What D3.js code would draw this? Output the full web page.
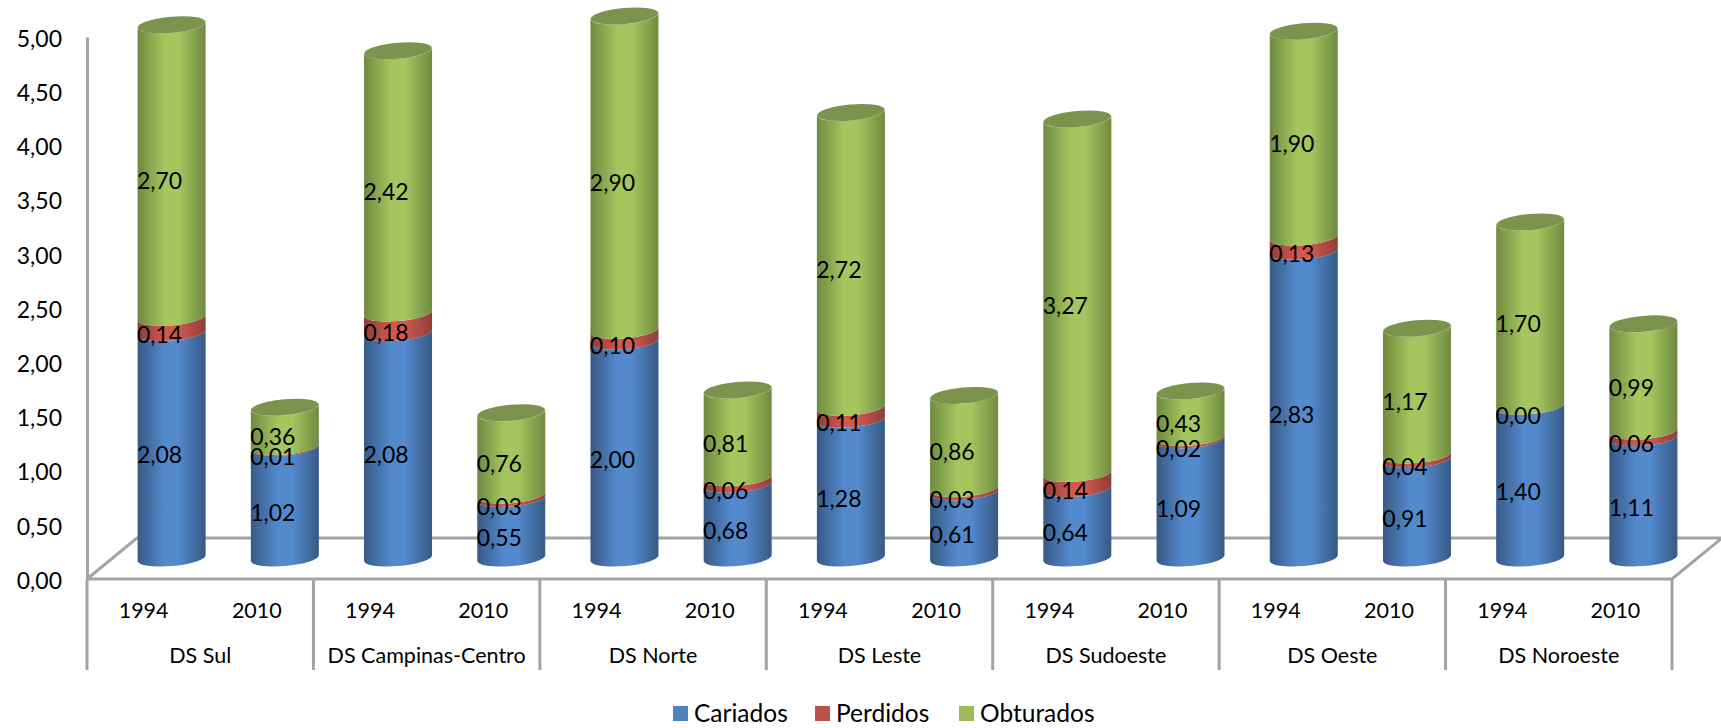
<!DOCTYPE html>
<html>
<head>
<meta charset="utf-8">
<script src="https://cdn.jsdelivr.net/npm/d3@7"></script>
<style>
  body { margin: 0; background: #fff; }
  text { font-family: Lato, "Open Sans", sans-serif; fill: #000; }
</style>
</head>
<body>
<svg id="chart" width="1721" height="728" style="display:block"></svg>
<script>
const districts = ["DS Sul", "DS Campinas-Centro", "DS Norte", "DS Leste", "DS Sudoeste", "DS Oeste", "DS Noroeste"];
const years = ["1994", "2010"];
const seriesNames = ["Cariados", "Perdidos", "Obturados"];

// two values per district: 1994, 2010
const cariados = [2.08, 1.02, 2.08, 0.55, 2.00, 0.68, 1.28, 0.61, 0.64, 1.09, 2.83, 0.91, 1.40, 1.11];
const perdidos = [0.14, 0.01, 0.18, 0.03, 0.10, 0.06, 0.11, 0.03, 0.14, 0.02, 0.13, 0.04, 0.00, 0.06];
const obturados = [2.70, 0.36, 2.42, 0.76, 2.90, 0.81, 2.72, 0.86, 3.27, 0.43, 1.90, 1.17, 1.70, 0.99];

const colors = {
  Cariados: { swatch: "#4f81bd", edge: "#375a85", mid: "#5389cd" },
  Perdidos: { swatch: "#c0504d", edge: "#8f3d3a", mid: "#d0584f" },
  Obturados: { swatch: "#9bbb59", edge: "#6f8a3f", mid: "#a5c65f" }
};

const plotLeft = 87, plotRight = 1672, plotBase = 579, plotTop = 37, bottomEnd = 670;
const depthX = 50, depthY = 41;       // floor depth
const barDX = 28, barDY = -21;        // cylinders stand in the middle of the floor
const rx = 34, ry = 8, tilt = -5, tiltY = 2.8;
const lineColor = "#a3a3a3";

const rows = cariados.map((d, i) => ({
  key: i,
  year: years[i % 2],
  Cariados: d,
  Perdidos: perdidos[i],
  Obturados: obturados[i]
}));

const svg = d3.select("#chart");
const defs = svg.append("defs");
seriesNames.forEach(name => {
  const g = defs.append("linearGradient").attr("id", "grad" + name);
  g.append("stop").attr("offset", "0%").attr("stop-color", colors[name].edge);
  g.append("stop").attr("offset", "40%").attr("stop-color", colors[name].mid);
  g.append("stop").attr("offset", "60%").attr("stop-color", colors[name].mid);
  g.append("stop").attr("offset", "100%").attr("stop-color", colors[name].edge);
});

const x = d3.scaleBand().domain(rows.map(d => d.key)).range([plotLeft, plotRight]);
const y = d3.scaleLinear().domain([0, 5]).range([plotBase, plotTop]);
const comma = d3.formatLocale({ decimal: ",", thousands: ".", grouping: [3], currency: ["", ""] }).format(".2f");

// floor
const frame = svg.append("g").attr("fill", "none").attr("stroke", lineColor).attr("stroke-width", 3);
frame.append("path").attr("d", d3.line()([[plotLeft, plotBase], [plotLeft + depthX, plotBase - depthY], [plotRight + depthX, plotBase - depthY], [plotRight, plotBase], [plotLeft, plotBase]]));

// axes
const yAxis = svg.append("g")
  .attr("transform", `translate(${plotLeft},0)`)
  .call(d3.axisLeft(y).tickValues(d3.range(0, 5.01, 0.5)).tickFormat(comma).tickSize(0).tickPadding(25));
yAxis.select(".domain").attr("stroke", lineColor).attr("stroke-width", 3);
yAxis.selectAll("text").attr("font-size", 23).attr("dy", "0.4em").style("font-family", "Lato");

// category frame below the floor
const groupEdges = d3.range(0, districts.length + 1).map(i => plotLeft + i * x.bandwidth() * 2);
frame.selectAll("line.div").data(groupEdges).enter().append("line")
  .attr("class", "div")
  .attr("x1", d => d).attr("x2", d => d)
  .attr("y1", plotBase).attr("y2", bottomEnd);

svg.append("g").selectAll("text").data(rows).enter().append("text")
  .attr("x", d => x(d.key) + x.bandwidth() / 2)
  .attr("y", 610)
  .attr("dy", "0.35em")
  .attr("text-anchor", "middle")
  .attr("font-size", 21.5)
  .text(d => d.year);

svg.append("g").selectAll("text").data(districts).enter().append("text")
  .attr("x", (d, i) => plotLeft + (i + 0.5) * x.bandwidth() * 2)
  .attr("y", 655)
  .attr("dy", "0.35em")
  .attr("text-anchor", "middle")
  .attr("font-size", 21.5)
  .text(d => d);

// cylinders
const stacked = d3.stack().keys(seriesNames)(rows);
const barX = d => x(d.data.key) + x.bandwidth() / 2 + barDX;
const barY = v => y(v) + barDY;

function segment(d) {
  const cx = barX(d), y0 = barY(d[0]), y1 = barY(d[1]);
  const arc = `A${rx},${ry} ${tilt} 0 `;
  return `M${cx - rx},${y1 + tiltY}` + arc + `0 ${cx + rx},${y1 - tiltY}` +
    `L${cx + rx},${y0 - tiltY}` + arc + `1 ${cx - rx},${y0 + tiltY}Z`;
}

const bars = svg.append("g");
stacked.forEach(s => {
  bars.append("g").selectAll("path")
    .data(s.filter(d => d[1] > d[0]))
    .enter().append("path")
    .attr("d", segment)
    .attr("fill", `url(#grad${s.key})`);
});

// top caps
bars.append("g").selectAll("ellipse")
  .data(stacked[2]).enter().append("ellipse")
  .attr("rx", rx).attr("ry", ry)
  .attr("transform", d => `translate(${barX(d)},${barY(d[1])}) rotate(${tilt})`)
  .attr("fill", "#7c934e");

// data labels
stacked.forEach(s => {
  svg.append("g").selectAll("text").data(s).enter().append("text")
    .attr("x", d => barX(d) - 12)
    .attr("y", d => barY((d[0] + d[1]) / 2) + 10)
    .attr("dy", "0.35em")
    .attr("text-anchor", "middle")
    .attr("font-size", 23)
    .text(d => comma(d[1] - d[0]));
});

// legend
const legendX = [673, 815, 959];
const legend = svg.append("g").selectAll("g").data(seriesNames).enter().append("g")
  .attr("transform", (d, i) => `translate(${legendX[i]},713.5)`);
legend.append("rect").attr("y", -7.5).attr("width", 15).attr("height", 15).attr("fill", d => colors[d].swatch);
legend.append("text").attr("x", 21).attr("dy", "0.35em").attr("font-size", 24.5).text(d => d);
</script>
</body>
</html>
